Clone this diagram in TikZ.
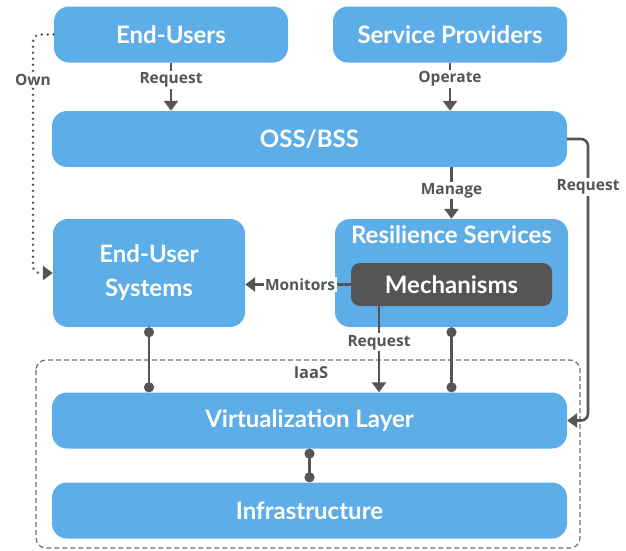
\documentclass[tikz,border=0pt]{standalone}
\usepackage{fontspec}
\setmainfont{Lato}
\newfontfamily\lblfont{Open Sans}
\usetikzlibrary{arrows.meta,calc}
\definecolor{boxblue}{HTML}{5DADE8}
\definecolor{dgray}{HTML}{555555}
\tikzset{
  bluebox/.style={draw=none,fill=boxblue,rounded corners=15pt,text=white,font=\fontsize{24}{28}\selectfont\bfseries,align=center,inner sep=0pt},
  mechbox/.style={draw=none,fill=dgray,rounded corners=9pt,text=white,font=\fontsize{24}{28}\selectfont\bfseries,inner sep=0pt},
  elabel/.style={fill=white,text=dgray,font=\lblfont\fontsize{15.5}{18}\selectfont\bfseries,inner sep=1.5pt},
  conn/.style={draw=dgray,line width=2.6pt,-{Triangle[width=14pt,length=10pt]}},
  dotconn/.style={draw=dgray,line width=2.8pt,line cap=round,dash pattern=on 0pt off 6pt,-{Triangle[width=14pt,length=10pt]}},
  pinconn/.style={draw=dgray,line width=2.6pt,{Circle[length=10pt]}-{Circle[length=10pt]}},
}
\begin{document}
\begin{tikzpicture}[x=1pt,y=-1pt]
\useasboundingbox (0,0) rectangle (626,550);
% IaaS frame
\draw[draw=dgray!85,line width=1.2pt,dash pattern=on 5pt off 3pt,rounded corners=10pt] (36,360) rectangle (580,548);
\node[text=dgray,font=\lblfont\fontsize{16.5}{19}\selectfont\bfseries] (iaas) at (311,373) {IaaS};
% boxes
\node[bluebox,minimum width=234pt,minimum height=56pt] (eu) at (171,34.5) {End-Users};
\node[bluebox,minimum width=234pt,minimum height=56pt] (sp) at (450,34.5) {Service Providers};
\node[bluebox,minimum width=515pt,minimum height=56pt] (oss) at (309.5,139) {OSS/BSS};
\node[bluebox,minimum width=192pt,minimum height=108pt] (eus) at (149,273) {End-User\\[6pt]Systems};
\node[bluebox,minimum width=233pt,minimum height=108pt] (res) at (451.5,273) {};
\node[text=white,font=\fontsize{24}{28}\selectfont\bfseries] (restxt) at (451.5,235) {Resilience Services};
\node[mechbox,minimum width=201pt,minimum height=43pt] (mech) at (451.5,284.5) {Mechanisms};
\node[bluebox,minimum width=515pt,minimum height=56pt] (virt) at (309.5,420.5) {Virtualization Layer};
\node[bluebox,minimum width=515pt,minimum height=56pt] (infra) at (309.5,510.5) {Infrastructure};
% helper coordinates
\coordinate (ox) at (33,0);
\coordinate (rx) at (588,0);
\coordinate (mx) at (379,0);
% connectors
\draw[conn] (eu.south) -- (eu.south |- oss.north) node[elabel,pos=0.36] (l1) {Request};
\draw[conn] (sp.south) -- (sp.south |- oss.north) node[elabel,pos=0.34] (l2) {Operate};
\draw[conn] (res.north |- oss.south) -- (res.north) node[elabel,pos=0.45] (l3) {Manage};
\draw[conn,rounded corners=7pt] (oss.east) -- (oss.east -| rx) -- (virt.east -| rx) -- (virt.east);
\node[elabel] (l4) at (588,187) {Request};
\draw[dotconn,rounded corners=7pt] (eu.west) -- (eu.west -| ox) -- (eus.west -| ox) -- (eus.west);
\node[elabel] (l5) at (33,80) {Own};
\draw[conn] (mech.west) -- (mech.west -| eus.east) node[elabel,pos=0.48] (l6) {Monitors};
\draw[conn] (mech.south -| mx) -- (virt.north -| mx) node[elabel,pos=0.42] (l7) {Request};
\draw[pinconn] (eus.south) -- (eus.south |- virt.north);
\draw[pinconn] (res.south) -- (res.south |- virt.north);
\draw[pinconn] (virt.south) -- (infra.north);
\end{tikzpicture}
\end{document}
